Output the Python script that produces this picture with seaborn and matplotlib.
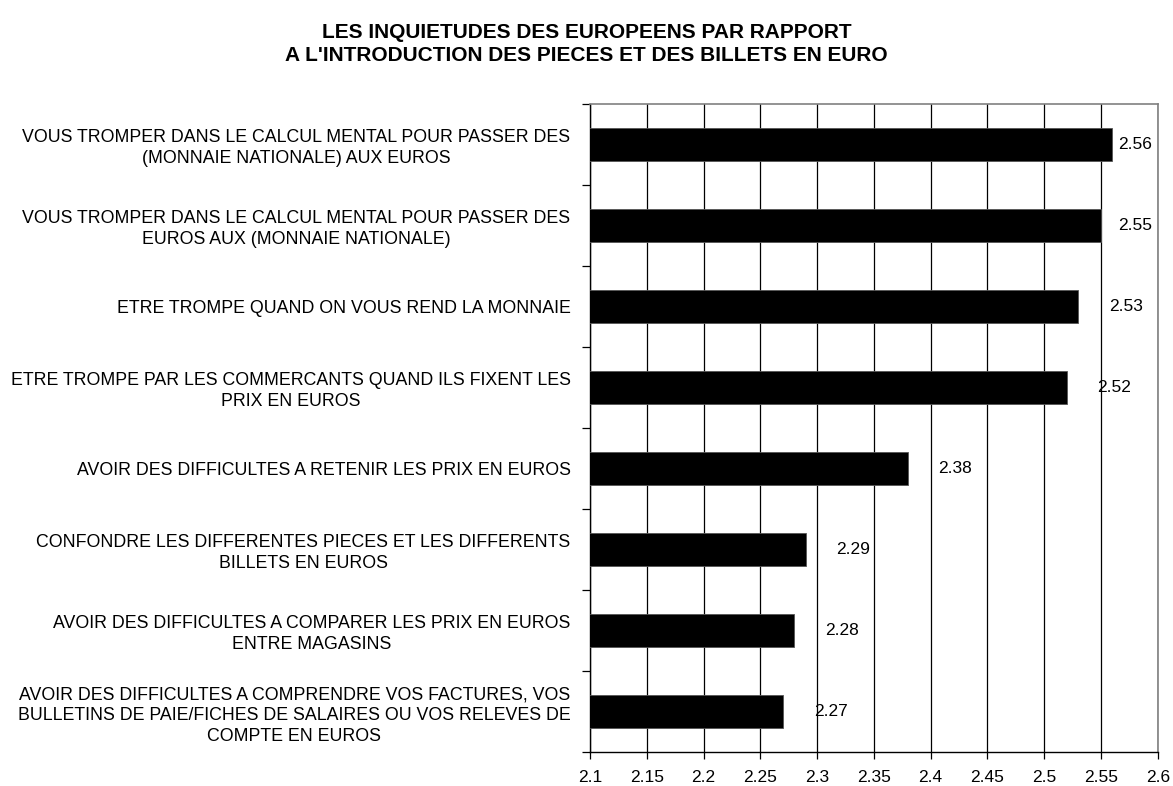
import numpy as np
import matplotlib
matplotlib.use('Agg')
import matplotlib.pyplot as plt
import seaborn as sns

categories = [
    "VOUS TROMPER DANS LE CALCUL MENTAL POUR PASSER DES\n(MONNAIE NATIONALE) AUX EUROS",
    "VOUS TROMPER DANS LE CALCUL MENTAL POUR PASSER DES\nEUROS AUX (MONNAIE NATIONALE)",
    "ETRE TROMPE QUAND ON VOUS REND LA MONNAIE",
    "ETRE TROMPE PAR LES COMMERCANTS QUAND ILS FIXENT LES\nPRIX EN EUROS",
    "AVOIR DES DIFFICULTES A RETENIR LES PRIX EN EUROS",
    "CONFONDRE LES DIFFERENTES PIECES ET LES DIFFERENTS\nBILLETS EN EUROS",
    "AVOIR DES DIFFICULTES A COMPARER LES PRIX EN EUROS\nENTRE MAGASINS",
    "AVOIR DES DIFFICULTES A COMPRENDRE VOS FACTURES, VOS\nBULLETINS DE PAIE/FICHES DE SALAIRES OU VOS RELEVES DE\nCOMPTE EN EUROS",
]
values = [2.56, 2.55, 2.53, 2.52, 2.38, 2.29, 2.28, 2.27]
xticks = [2.1, 2.15, 2.2, 2.25, 2.3, 2.35, 2.4, 2.45, 2.5, 2.55, 2.6]

sns.set_style('white')
plt.rcParams['font.family'] = ['Liberation Sans', 'DejaVu Sans']
plt.rcParams['text.color'] = 'black'
plt.rcParams['xtick.color'] = 'black'
plt.rcParams['ytick.color'] = 'black'

fig = plt.figure(figsize=(11.73, 7.86), dpi=100)
ax = fig.add_axes([0.503, 0.0433, 0.484, 0.8244])

sns.barplot(x=values, y=categories, orient='h', color='black', width=0.41,
            edgecolor='#555555', linewidth=0.6, ax=ax, zorder=3)

ax.set_xlim(2.1, 2.6)
ax.set_ylim(len(categories) - 0.5, -0.5)
ax.set_xticks(xticks)
ax.set_xticklabels([f'{t:g}' for t in xticks], fontsize=12.5)
ax.xaxis.grid(True, color='black', linewidth=0.9, zorder=0)
ax.yaxis.grid(False)
ax.set_axisbelow(True)

ax.set_yticks(range(len(categories)))
ax.set_yticklabels(categories, fontsize=12.8, ha='right', multialignment='center',
                   linespacing=1.3)
ax.set_yticks(np.arange(-0.5, len(categories), 1), minor=True)
ax.tick_params(axis='y', which='major', length=0, pad=14)
ax.tick_params(axis='y', which='minor', length=6, width=0.9, color='black', left=True)
ax.tick_params(axis='x', length=5, width=0.9, color='black', bottom=True, pad=8)

for side in ['left', 'bottom']:
    ax.spines[side].set_color('black')
    ax.spines[side].set_linewidth(1.0)
for side in ['top', 'right']:
    ax.spines[side].set_color('#808080')
    ax.spines[side].set_linewidth(1.2)

for i, v in enumerate(values):
    ax.text(min(v + 0.027, 2.565), i, f'{v:.2f}', va='center', ha='left', fontsize=12.5)

ax.set_xlabel('')
ax.set_ylabel('')
fig.text(0.5, 0.944, "LES INQUIETUDES DES EUROPEENS PAR RAPPORT\nA L'INTRODUCTION DES PIECES ET DES BILLETS EN EURO",
         ha='center', va='center', fontsize=15, fontweight='bold', linespacing=1.25)

fig.savefig('out.png', dpi=100)
